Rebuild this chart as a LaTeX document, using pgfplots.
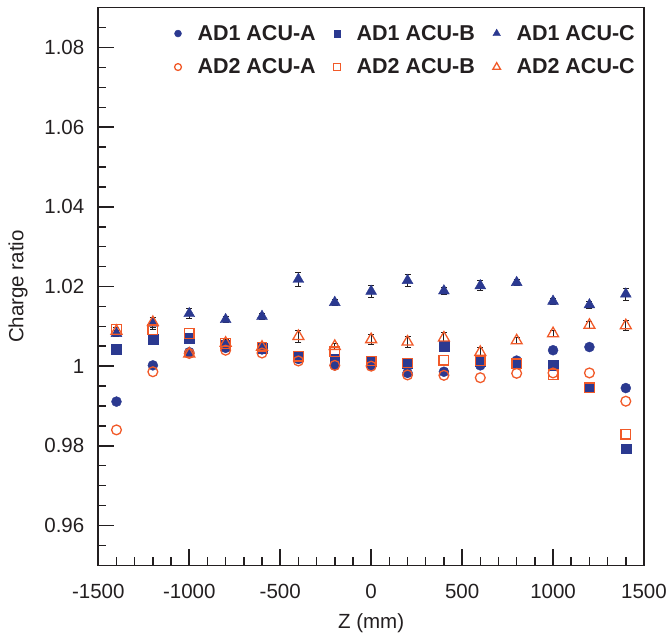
\documentclass[border=0pt]{standalone}
\usepackage{fontspec}
\setmainfont{Liberation Sans}
\usepackage{pgfplots}
\usepackage{pgfplotstable}
\pgfplotsset{compat=1.18}
\definecolor{adblue}{RGB}{43,57,144}
\definecolor{adorange}{RGB}{241,90,41}
\definecolor{axgray}{RGB}{35,31,32}

\pgfplotstableread{
z a1 b1 c1 c1e a2 b2 c2 c2e
-1400 0.9911 1.0042 1.0082 0.0008 0.9840 1.0092 1.0088 0.0008
-1200 1.0002 1.0067 1.0108 0.0015 0.9986 1.0092 1.0110 0.0013
-1000 1.0035 1.0071 1.0132 0.0012 1.0032 1.0082 1.0031 0.0008
-800 1.0046 1.0052 1.0117 0.0008 1.0040 1.0057 1.0058 0.0008
-600 1.0042 1.0046 1.0125 0.0008 1.0033 1.0048 1.0048 0.0008
-400 1.0018 1.0025 1.0218 0.0017 1.0013 1.0025 1.0075 0.0015
-200 1.0002 1.0017 1.0160 0.0008 1.0002 1.0036 1.0050 0.0008
0 1.0002 1.0013 1.0188 0.0015 1.0000 1.0013 1.0067 0.0013
200 0.9983 1.0008 1.0215 0.0016 0.9978 1.0008 1.0061 0.0014
400 0.9986 1.0050 1.0189 0.0008 0.9977 1.0015 1.0071 0.0013
600 1.0002 1.0013 1.0202 0.0013 0.9971 1.0013 1.0035 0.0013
800 1.0014 1.0006 1.0210 0.0008 0.9982 1.0006 1.0064 0.0008
1000 1.0040 1.0002 1.0163 0.0008 0.9983 0.9979 1.0082 0.0008
1200 1.0048 0.9948 1.0154 0.0008 0.9983 0.9946 1.0103 0.0008
1400 0.9945 0.9793 1.0181 0.0015 0.9912 0.9829 1.0102 0.0013
}\datatable

\begin{document}
\begin{tikzpicture}
\begin{axis}[
  at={(0,0)}, anchor=south west,
  scale only axis, width=545.7pt, height=557.6pt,
  xmin=-1500, xmax=1500, ymin=0.95, ymax=1.09,
  xtick={-1500,-1000,-500,0,500,1000,1500},
  xticklabels={-1500,-1000,-500,0,500,1000,1500},
  ytick={0.96,0.98,1,1.02,1.04,1.06,1.08},
  yticklabels={0.96,0.98,1,1.02,1.04,1.06,1.08},
  minor xtick={-1400,-1300,...,1400},
  minor ytick={0.955,0.96,...,1.09},
  xtick pos=bottom, ytick pos=left,
  tick align=inside,
  major tick length=16pt, minor tick length=8pt,
  axis line style={line width=1.6pt, axgray},
  major tick style={line width=1.5pt, draw=axgray},
  minor tick style={line width=1.5pt, draw=axgray},
  ticklabel style={font=\fontsize{20.5}{24}\selectfont, text=axgray},
  xticklabel style={yshift=-15pt},
  yticklabel style={xshift=-10.5pt},
  label style={font=\fontsize{20.5}{24}\selectfont, text=axgray},
  xlabel={Z (mm)},
  xlabel style={at={(rel axis cs:0.5,0)}, anchor=base, yshift=-62.7pt},
  ylabel={Charge ratio},
  ylabel style={at={(rel axis cs:-0.1471,0.5)}, anchor=center},
  legend columns=3,
  legend cell align=left,
  legend style={at={(rel axis cs:0.9926,0.976)}, anchor=north east,
    draw=none, fill=none,
    font=\bfseries\fontsize{21.5}{25}\selectfont, text=axgray,
    row sep=13pt,
    /tikz/every odd column/.append style={column sep=14pt},
    /tikz/every even column/.append style={column sep=16pt}},
  legend image code/.code={\draw[#1,/tikz/every mark/.append style={scale=0.7}] plot coordinates {(0pt,0pt)};},
]
\addplot[only marks, color=adblue, mark=*, mark size=5pt] table[x=z, y=a1] {\datatable};
\addlegendentry{AD1 ACU-A}
\addplot[only marks, color=adblue, mark=square*, mark size=4.9pt] table[x=z, y=b1] {\datatable};
\addlegendentry{AD1 ACU-B}
\addplot[only marks, color=adblue, mark=triangle*, mark size=6.3pt,
  error bars/.cd, y dir=both, y explicit,
  error bar style={line width=1pt, axgray},
  error mark options={rotate=90, mark size=3pt, line width=1pt, axgray}]
  table[x=z, y=c1, y error=c1e] {\datatable};
\addlegendentry{AD1 ACU-C}
\addplot[only marks, color=adorange, mark=o, mark size=4.9pt, mark options={line width=1.3pt}] table[x=z, y=a2] {\datatable};
\addlegendentry{AD2 ACU-A}
\addplot[only marks, color=adorange, mark=square, mark size=4.8pt, mark options={line width=1.3pt}] table[x=z, y=b2] {\datatable};
\addlegendentry{AD2 ACU-B}
\addplot[only marks, color=adorange, mark=triangle, mark size=6.3pt, mark options={line width=1.3pt},
  error bars/.cd, y dir=both, y explicit,
  error bar style={line width=1pt, axgray},
  error mark options={rotate=90, mark size=3pt, line width=1pt, axgray}]
  table[x=z, y=c2, y error=c2e] {\datatable};
\addlegendentry{AD2 ACU-C}
\end{axis}
\pgfresetboundingbox
\useasboundingbox (-98.3pt,-67.7pt) rectangle (568.7pt,565.3pt);
\end{tikzpicture}
\end{document}
